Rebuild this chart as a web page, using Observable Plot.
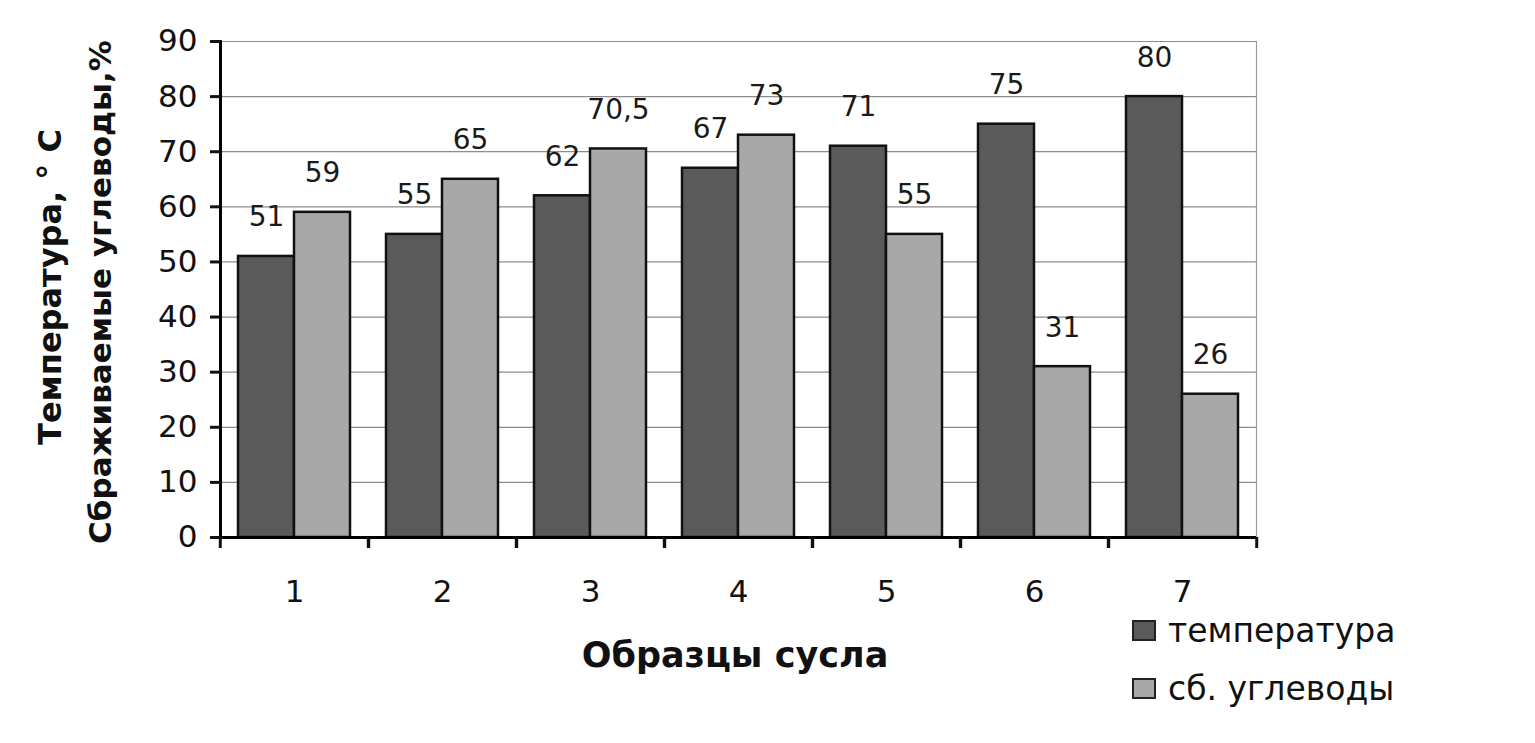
<!DOCTYPE html>
<html><head><meta charset="utf-8">
<script src="https://cdn.jsdelivr.net/npm/d3@7"></script>
<script src="https://cdn.jsdelivr.net/npm/@observablehq/plot@0.6"></script>
<style>
body{margin:0;background:#fff;}
#wrap{position:relative;width:1535px;height:743px;font-family:"DejaVu Sans",sans-serif;color:#111;overflow:hidden;}
.ytitle{position:absolute;white-space:nowrap;font-weight:bold;transform:translate(-50%,-50%) rotate(-90deg);line-height:1;}
.xtitle{position:absolute;white-space:nowrap;font-weight:bold;font-size:35px;transform:translate(-50%,-50%);line-height:1;}
.leg{position:absolute;display:flex;align-items:center;font-size:33px;line-height:1;white-space:nowrap;}
.sw{width:24px;height:21px;border:2px solid #222;margin-right:12px;box-sizing:border-box;}
</style></head><body><div id="wrap"></div>
<script>
const samples = ["1","2","3","4","5","6","7"];
const seriesNames = ["температура","сб. углеводы"];
const temperature = [51,55,62,67,71,75,80];
const carbs = [59,65,70.5,73,55,31,26];
const yTicks = [0,10,20,30,40,50,60,70,80,90];
const colors = ["#5a5a5a","#a8a8a8"];

const data = samples.flatMap((s,i)=>[
  {sample:s, series:seriesNames[0], value:temperature[i]},
  {sample:s, series:seriesNames[1], value:carbs[i]}
]);
const fmt = v => String(v).replace(".", ",");
const W = 1535, ML = 218, MR = 278;
const halfStep = (W - ML - MR) / samples.length / 2;

const chart = Plot.plot({
  width: W, height: 743, marginLeft: ML, marginRight: MR, marginTop: 41, marginBottom: 206,
  style: {fontFamily: "DejaVu Sans", color: "#111", background: "#fff"},
  fx: {domain: samples, padding: 0, label: null},
  x: {domain: seriesNames, paddingInner: 0, paddingOuter: 0.3, axis: null},
  y: {domain: [0, 90], label: null},
  color: {domain: seriesNames, range: colors},
  marks: [
    Plot.gridY(yTicks, {stroke: "#8c8c8c", strokeOpacity: 1, strokeWidth: 1.2}),
    Plot.frame({anchor: "right", facetAnchor: "right", stroke: "#9a9a9a", strokeWidth: 1.2}),
    Plot.barY(data, {fx: "sample", x: "series", y: "value", fill: "series", stroke: "#111", strokeWidth: 2.5}),
    Plot.text(data, {fx: "sample", x: "series", y: "value", text: d => fmt(d.value), dy: -39, fontSize: 28, fill: "#1a1a1a"}),
    Plot.ruleY([0], {stroke: "#000", strokeWidth: 3}),
    Plot.frame({anchor: "left", facetAnchor: "left", stroke: "#000", strokeWidth: 3}),
    Plot.axisY(yTicks, {tickSize: 10, tickPadding: 13, strokeWidth: 3, fontSize: 31, label: null}),
    Plot.axisFx({anchor: "bottom", tickSize: 0, tickPadding: 42, fontSize: 31, label: null}),
    Plot.axisFx({anchor: "bottom", text: null, tickSize: 11, strokeWidth: 3, dx: -halfStep, label: null}),
    Plot.axisFx([samples[samples.length-1]], {anchor: "bottom", text: null, tickSize: 11, strokeWidth: 3, dx: halfStep, label: null})
  ]
});
const wrap = document.getElementById("wrap");
wrap.appendChild(chart);

function add(cls, text, css){
  const d = document.createElement("div");
  d.className = cls; d.textContent = text;
  Object.assign(d.style, css);
  wrap.appendChild(d); return d;
}
add("ytitle", "Температура,  ° С", {left: "50px", top: "287px", fontSize: "32px"});
add("ytitle", "Сбраживаемые углеводы,%", {left: "100px", top: "292px", fontSize: "31px"});
add("xtitle", "Образцы сусла", {left: "735px", top: "655px"});
seriesNames.forEach((name, i) => {
  const row = document.createElement("div");
  row.className = "leg";
  Object.assign(row.style, {left: "1132px", top: (i === 0 ? 614 : 672) + "px"});
  const sw = document.createElement("div");
  sw.className = "sw"; sw.style.background = colors[i];
  const t = document.createElement("span"); t.textContent = name;
  row.appendChild(sw); row.appendChild(t);
  wrap.appendChild(row);
});
</script></body></html>
